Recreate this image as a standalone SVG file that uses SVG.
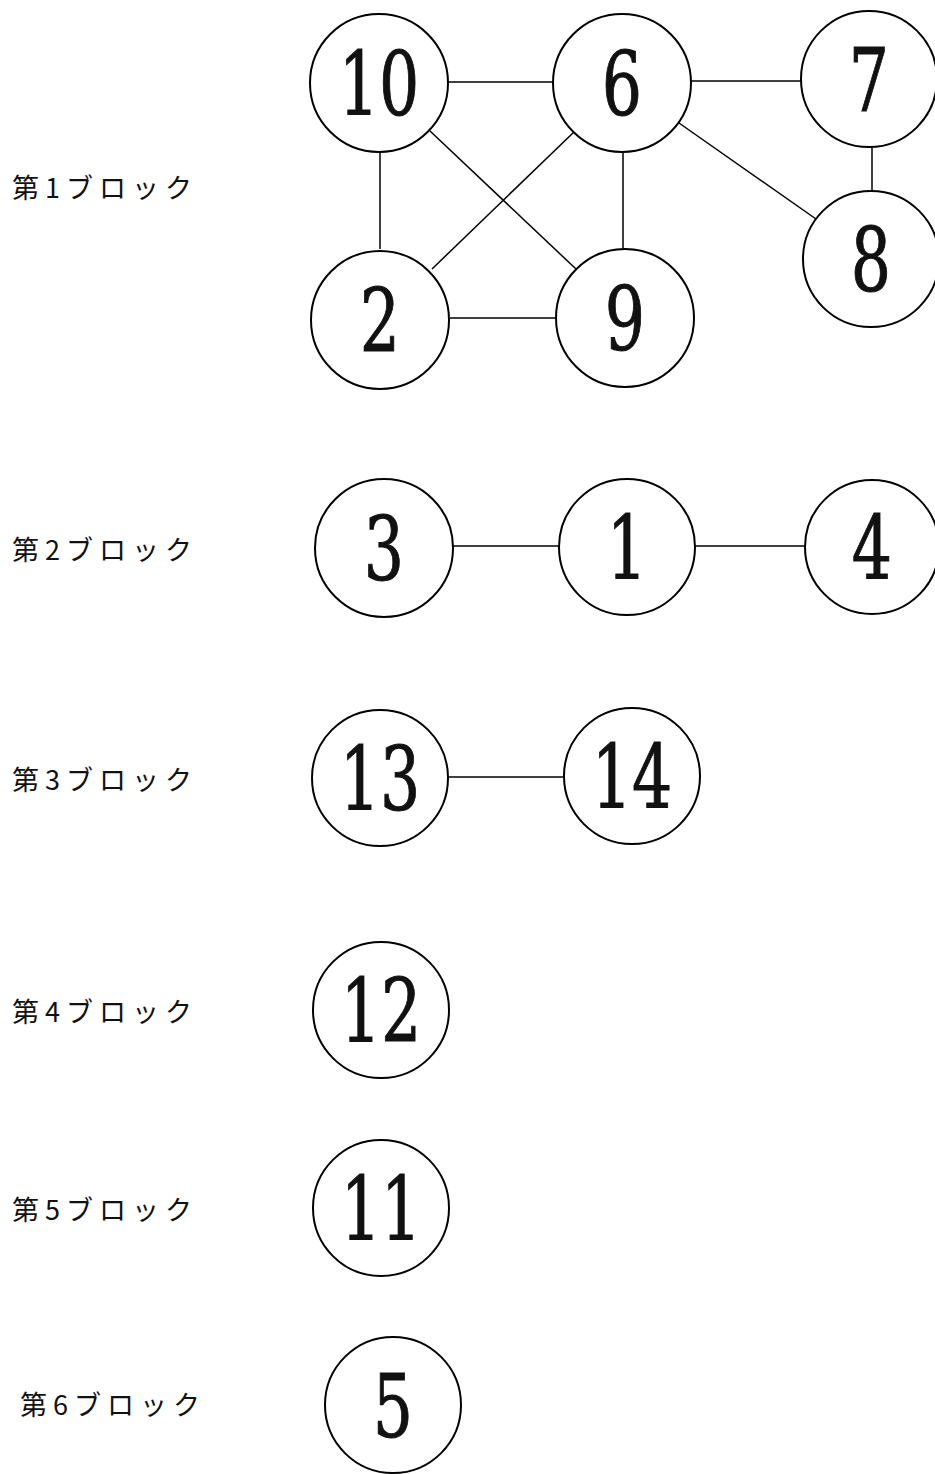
<svg xmlns="http://www.w3.org/2000/svg" width="935" height="1474" viewBox="0 0 935 1474">
<style>
.n{fill:#fff;stroke:#000;stroke-width:2}
.d{font-family:'DejaVu Serif',serif;font-size:88px;text-anchor:middle;fill:#111;stroke:#111;stroke-width:1}
.e line{stroke:#000;stroke-width:1.5}
.l{font-family:'Noto Sans CJK JP',sans-serif;font-size:27px;letter-spacing:6px;fill:#111}
</style>
<rect width="935" height="1474" fill="#fff"/>
<g class="e" id="connectors">
<line x1="448" y1="82" x2="554" y2="82"/>
<line x1="691" y1="81" x2="801" y2="81"/>
<line x1="380" y1="153" x2="380" y2="249"/>
<line x1="430" y1="131" x2="576" y2="269"/>
<line x1="575" y1="131" x2="432" y2="269"/>
<line x1="623" y1="153" x2="623" y2="249"/>
<line x1="679" y1="123" x2="816" y2="219"/>
<line x1="872" y1="148" x2="872" y2="190"/>
<line x1="450" y1="318" x2="557" y2="318"/>
<line x1="452" y1="546" x2="559" y2="546"/>
<line x1="695" y1="546" x2="806" y2="546"/>
<line x1="448" y1="777" x2="564" y2="777"/>
</g>
<g id="labels">
<text class="l" x="12" y="198">第1ブロック</text>
<text class="l" x="12" y="560">第2ブロック</text>
<text class="l" x="12" y="790">第3ブロック</text>
<text class="l" x="12" y="1022">第4ブロック</text>
<text class="l" x="12" y="1220">第5ブロック</text>
<text class="l" x="20" y="1415">第6ブロック</text>
</g>
<g id="n10"><circle class="n" cx="379" cy="83" r="69"/><text class="d" transform="translate(379,115) scale(0.72,1)">10</text></g>
<g id="n6"><circle class="n" cx="622" cy="83" r="69"/><text class="d" transform="translate(622,115) scale(0.72,1)">6</text></g>
<g id="n7"><circle class="n" cx="869" cy="79" r="68"/><text class="d" transform="translate(869,111) scale(0.72,1)">7</text></g>
<g id="n8"><circle class="n" cx="871" cy="259" r="68"/><text class="d" transform="translate(871,291) scale(0.72,1)">8</text></g>
<g id="n2"><circle class="n" cx="380" cy="320" r="69"/><text class="d" transform="translate(380,352) scale(0.72,1)">2</text></g>
<g id="n9"><circle class="n" cx="625" cy="318" r="69"/><text class="d" transform="translate(625,350) scale(0.72,1)">9</text></g>
<g id="n3"><circle class="n" cx="384" cy="548" r="69"/><text class="d" transform="translate(384,580) scale(0.72,1)">3</text></g>
<g id="n1"><circle class="n" cx="627" cy="547" r="68"/><text class="d" transform="translate(627,579) scale(0.72,1)">1</text></g>
<g id="n4"><circle class="n" cx="872" cy="547" r="67"/><text class="d" transform="translate(872,579) scale(0.72,1)">4</text></g>
<g id="n13"><circle class="n" cx="380" cy="778" r="68"/><text class="d" transform="translate(380,810) scale(0.72,1)">13</text></g>
<g id="n14"><circle class="n" cx="632" cy="776" r="68"/><text class="d" transform="translate(632,808) scale(0.72,1)">14</text></g>
<g id="n12"><circle class="n" cx="381" cy="1010" r="68"/><text class="d" transform="translate(381,1042) scale(0.72,1)">12</text></g>
<g id="n11"><circle class="n" cx="381" cy="1208" r="68"/><text class="d" transform="translate(381,1240) scale(0.72,1)">11</text></g>
<g id="n5"><circle class="n" cx="393" cy="1405" r="68"/><text class="d" transform="translate(393,1437) scale(0.72,1)">5</text></g>
</svg>
